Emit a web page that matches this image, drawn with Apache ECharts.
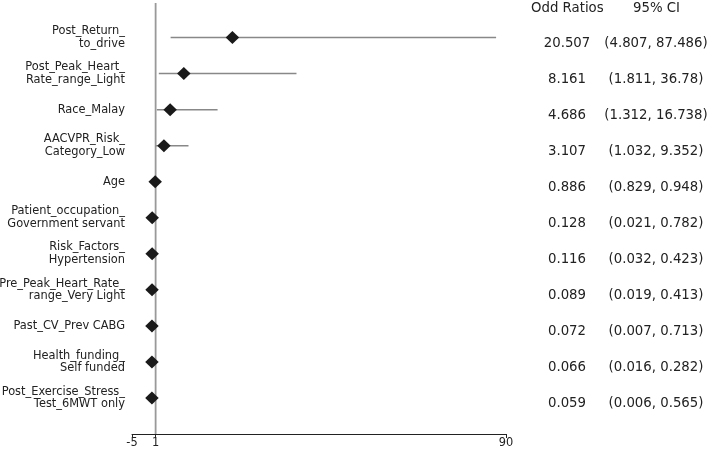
<!DOCTYPE html>
<html><head><meta charset="utf-8">
<script src="https://cdn.jsdelivr.net/npm/echarts@6/dist/echarts.min.js"></script>
<style>html,body{margin:0;padding:0;background:#fff}#c{width:709px;height:451px}</style>
</head><body><div id="c"></div>
<script>
const categories = [
  'Post_Return_\nto_drive',
  'Post_Peak_Heart_\nRate_range_Light',
  'Race_Malay',
  'AACVPR_Risk_\nCategory_Low',
  'Age',
  'Patient_occupation_\nGovernment servant',
  'Risk_Factors_\nHypertension',
  'Pre_Peak_Heart_Rate_\nrange_Very Light',
  'Past_CV_Prev CABG',
  'Health_funding_\nSelf funded',
  'Post_Exercise_Stress_\nTest_6MWT only'
];
const oddRatios = ['20.507','8.161','4.686','3.107','0.886','0.128','0.116','0.089','0.072','0.066','0.059'];
const ciLow  = ['4.807','1.811','1.312','1.032','0.829','0.021','0.032','0.019','0.007','0.016','0.006'];
const ciHigh = ['87.486','36.78','16.738','9.352','0.948','0.782','0.423','0.413','0.713','0.282','0.565'];
const xTicks = [-5, 1, 90];
const headers = ['Odd Ratios', '95% CI'];
const refValue = 1;

const font = 'DejaVu Sans';
const chart = echarts.init(document.getElementById('c'), null, {renderer: 'canvas'});
const rowIdx = v => (Math.abs(v - Math.round(v)) < 1e-6 && v >= 0 && v < categories.length) ? Math.round(v) : -1;

chart.setOption({
  animation: false,
  grid: {left: 132, right: 203, top: 1.5, bottom: 17, containLabel: false, outerBoundsMode: 'none'},
  graphic: [
    {type: 'text', left: 531, top: 2.5, style: {text: headers[0], font: '13.3px "DejaVu Sans"', fill: '#222'}},
    {type: 'text', left: 633, top: 2.5, style: {text: headers[1], font: '13.3px "DejaVu Sans"', fill: '#222'}}
  ],
  xAxis: {
    type: 'value', min: -5, max: 90,
    axisLine: {show: true, onZero: false, lineStyle: {color: '#222', width: 1}},
    axisTick: {show: true, customValues: xTicks, length: 4, lineStyle: {color: '#222'}},
    axisLabel: {customValues: xTicks, fontFamily: font, fontSize: 11.4, color: '#222', margin: 4, showMinLabel: true, showMaxLabel: true},
    splitLine: {show: false}
  },
  yAxis: [
    {
      type: 'value', min: -1, max: 11, interval: 1, inverse: true, position: 'left',
      axisLine: {show: false}, axisTick: {show: false}, splitLine: {show: false},
      axisLabel: {
        margin: 7, fontFamily: font, fontSize: 11.4, color: '#222', lineHeight: 12.5, align: 'right',
        showMinLabel: true, showMaxLabel: true,
        formatter: v => { const i = rowIdx(v); return i >= 0 ? categories[i] : ''; }
      }
    },
    {
      type: 'value', min: -1, max: 11, interval: 1, inverse: true, position: 'right',
      axisLine: {show: false}, axisTick: {show: false}, splitLine: {show: false},
      axisLabel: {
        margin: 11, fontFamily: font, fontSize: 13.3, color: '#222', align: 'left',
        padding: [12, 0, 0, 0],
        formatter: v => { const i = rowIdx(v); return i >= 0 ? '{a|' + oddRatios[i] + '}{b|(' + ciLow[i] + ', ' + ciHigh[i] + ')}' : ''; },
        rich: {
          a: {width: 100, align: 'center', fontFamily: font, fontSize: 13.3, color: '#222'},
          b: {width: 78, align: 'center', fontFamily: font, fontSize: 13.3, color: '#222'}
        }
      }
    }
  ],
  series: [
    {
      type: 'line', yAxisIndex: 0, symbol: 'none', silent: true,
      data: [[refValue, -0.96], [refValue, 11]],
      lineStyle: {color: '#999', width: 1.8}, z: 1
    },
    {
      type: 'custom', yAxisIndex: 0, z: 2,
      data: categories.map((c, i) => [Number(ciLow[i]), Number(ciHigh[i]), i]),
      renderItem: (params, api) => {
        const p1 = api.coord([api.value(0), api.value(2)]);
        const p2 = api.coord([api.value(1), api.value(2)]);
        return {type: 'line', shape: {x1: p1[0], y1: p1[1], x2: p2[0], y2: p2[1]}, style: {stroke: '#888', lineWidth: 1.5}};
      }
    },
    {
      type: 'scatter', yAxisIndex: 0, z: 3, symbol: 'diamond', symbolSize: [13.5, 13],
      data: oddRatios.map((v, i) => [Number(v), i]),
      itemStyle: {color: '#1a1a1a', opacity: 1}
    }
  ]
});
</script></body></html>
